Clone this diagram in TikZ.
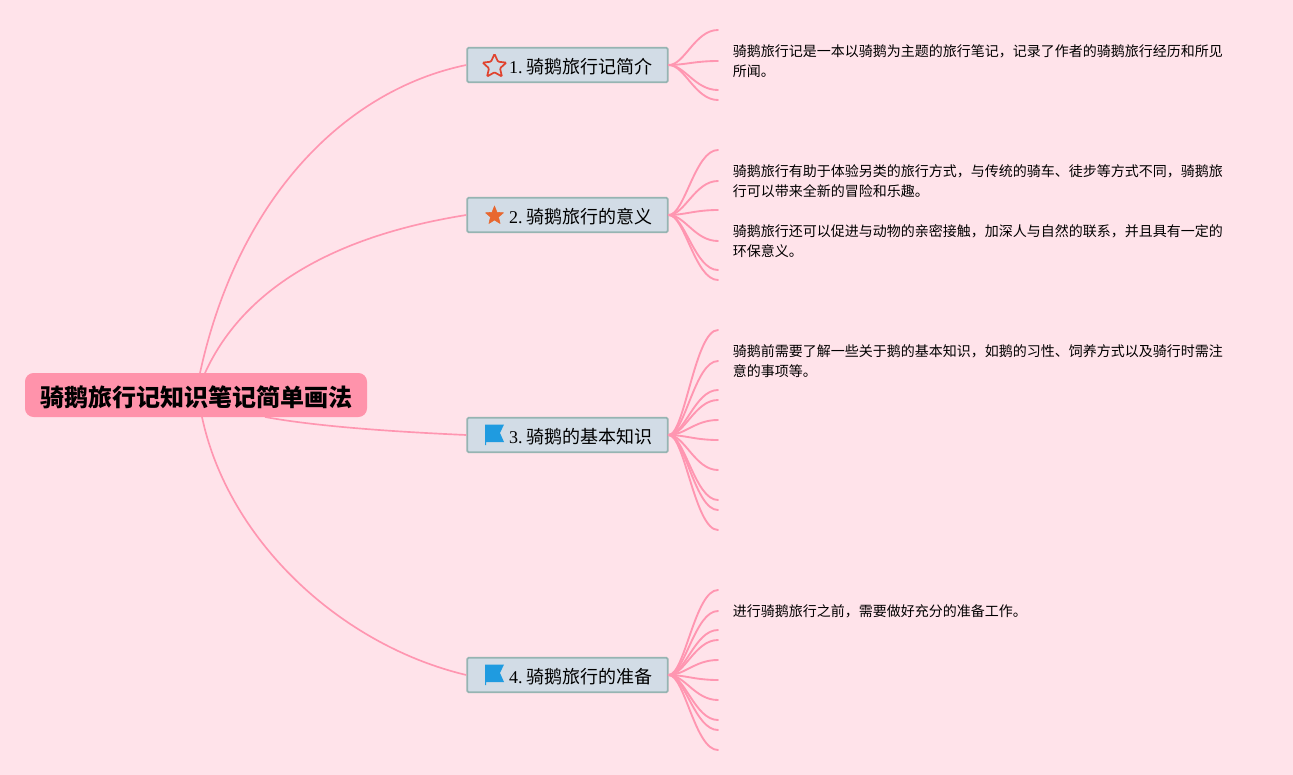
\documentclass[tikz,border=0pt]{standalone}
\usepackage{fontspec}
\setmainfont{Liberation Serif}
\newfontfamily\cjk{Noto Sans CJK SC}
\usetikzlibrary{calc}
\definecolor{bgc}{HTML}{FFE3EA}
\definecolor{rootc}{HTML}{FF93AB}
\definecolor{linec}{HTML}{FF96B1}
\definecolor{boxc}{HTML}{D2DCE6}
\definecolor{boxb}{HTML}{96B4B2}
\definecolor{starr}{HTML}{E0432F}
\definecolor{staro}{HTML}{E8672F}
\definecolor{flagb}{HTML}{1F9BE0}
\tikzset{
 x=0.75pt,y=-0.75pt,
 rootnode/.style={fill=rootc,rounded corners=6.5pt,minimum width=256.5pt,minimum height=33pt,inner sep=0pt,text height=18pt,text depth=0.8pt,font=\cjk\bfseries\fontsize{18pt}{22pt}\selectfont},
 branchnode/.style={draw=boxb,line width=1.3pt,fill=boxc,rounded corners=1.2pt,text width=150.5pt,minimum height=26pt,inner sep=0pt,text height=13.5pt,text depth=1.5pt,font=\fontsize{13.5pt}{16pt}\selectfont},
 leafnode/.style={anchor=west,inner xsep=10.9pt,inner ysep=0pt,align=left,font=\cjk\fontsize{10.5pt}{15pt}\selectfont},
 bigline/.style={draw=linec,line width=1.25pt},
 twig/.style={draw=linec,line width=1.4pt,line cap=round},
}
\newcommand{\blabel}[2]{\hspace*{31.5pt}#1.\hspace{3.1pt}{\cjk #2}}
\begin{document}
\begin{tikzpicture}
\useasboundingbox (0,0) rectangle (1293,775);
\fill[bgc] (0,0) rectangle (1293,775);
% free twig ends
\foreach \n/\y in {a1/30,a3/90,a4/100,
 b1/150,b3/210,b5/270,b6/280,
 c1/330,c3/390,c4/400,c5/420,c6/440,c7/470,c8/500,c9/510,c10/530,
 d1/590,d3/630,d4/640,d5/660,d6/680,d7/700,d8/720,d9/730,d10/750}
 \coordinate (\n) at (718,\y);
% root connectors drawn first so that the root box covers their ends
\coordinate (r1) at (200,373);
\coordinate (r2) at (205,373);
\coordinate (r3) at (265,417);
\coordinate (r4) at (202,417);
% nodes
\node[branchnode] (A) at (567.5,65) {\blabel{1}{骑鹅旅行记简介}};
\node[branchnode] (B) at (567.5,215) {\blabel{2}{骑鹅旅行的意义}};
\node[branchnode] (C) at (567.5,435) {\blabel{3}{骑鹅的基本知识}};
\node[branchnode] (D) at (567.5,675) {\blabel{4}{骑鹅旅行的准备}};
\draw[bigline] (r1) .. controls (238,198) and (345,90) .. (A.west);
\draw[bigline] (r2) .. controls (245,285) and (340,235) .. (B.west);
\draw[bigline] (r3) .. controls (320,427) and (400,432) .. (C.west);
\draw[bigline] (r4) .. controls (228,540) and (340,645) .. (D.west);
\node[rootnode] (R) at (196,395) {\hspace*{1.2pt}骑鹅旅行记知识笔记简单画法};
% leaves
\node[leafnode] (a2) at (718,61) {骑鹅旅行记是一本以骑鹅为主题的旅行笔记，记录了作者的骑鹅旅行经历和所见\\所闻。};
\node[leafnode] (b2) at (718,181) {骑鹅旅行有助于体验另类的旅行方式，与传统的骑车、徒步等方式不同，骑鹅旅\\行可以带来全新的冒险和乐趣。};
\node[leafnode] (b4) at (718,241) {骑鹅旅行还可以促进与动物的亲密接触，加深人与自然的联系，并且具有一定的\\环保意义。};
\node[leafnode] (c2) at (718,361) {骑鹅前需要了解一些关于鹅的基本知识，如鹅的习性、饲养方式以及骑行时需注\\意的事项等。};
\node[leafnode] (d2) at (718,611) {进行骑鹅旅行之前，需要做好充分的准备工作。};
% twigs
\foreach \t in {a1,a3,a4} \draw[twig] (A.east) .. controls +(16,0) and ($(\t)+(-23,0)$) .. (\t);
\draw[twig] (A.east) .. controls +(16,0) and ($(a2.west)+(-23,0)$) .. (a2.west);
\foreach \t in {b1,b3,b5,b6} \draw[twig] (B.east) .. controls +(16,0) and ($(\t)+(-23,0)$) .. (\t);
\foreach \t in {b2,b4} \draw[twig] (B.east) .. controls +(16,0) and ($(\t.west)+(-23,0)$) .. (\t.west);
\foreach \t in {c1,c3,c4,c5,c6,c7,c8,c9,c10} \draw[twig] (C.east) .. controls +(16,0) and ($(\t)+(-23,0)$) .. (\t);
\draw[twig] (C.east) .. controls +(16,0) and ($(c2.west)+(-23,0)$) .. (c2.west);
\foreach \t in {d1,d3,d4,d5,d6,d7,d8,d9,d10} \draw[twig] (D.east) .. controls +(16,0) and ($(\t)+(-23,0)$) .. (\t);
\draw[twig] (D.east) .. controls +(16,0) and ($(d2.west)+(-23,0)$) .. (d2.west);
% icons
\draw[starr,line width=1.3pt,rounded corners=0.8pt,fill=boxc]
 (494.5,54) -- (498,61.7) -- (506.3,62.6) -- (500,68.3) -- (501.9,76.5) -- (494.5,72.3) -- (487.1,76.5) -- (489,68.3) -- (482.7,62.6) -- (491,61.7) -- cycle;
\fill[staro,draw=staro,line width=0.4pt,line join=round]
 (494.5,206) -- (497,212.3) -- (503.5,212.8) -- (498.5,217) -- (500.1,223.5) -- (494.5,220) -- (488.9,223.5) -- (490.5,217) -- (485.5,212.8) -- (492,212.3) -- cycle;
\foreach \yy in {424.5,664.5} {
 \fill[flagb] (485,\yy) -- (504,\yy) -- (500,\yy+8.5) -- (504,\yy+17.5) -- (486,\yy+17.5) -- (486,\yy+20.5) -- (485,\yy+20.5) -- cycle;
}
\end{tikzpicture}
\end{document}
